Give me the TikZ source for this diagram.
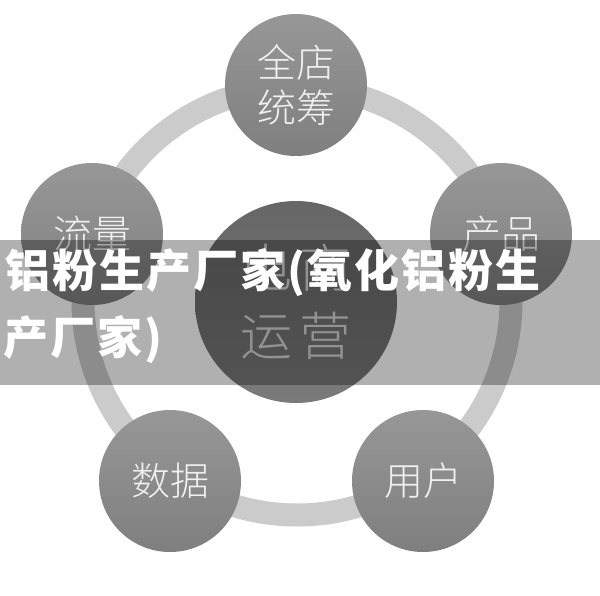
\documentclass[tikz,border=0pt]{standalone}
\usepackage{fontspec}
\newfontfamily\cjk{Noto Sans CJK SC}
\newfontfamily\cjkl{Noto Sans CJK SC Light}
\definecolor{ringc}{HTML}{CBCBCB}
\definecolor{otop}{HTML}{979797}
\definecolor{obot}{HTML}{7F7F7F}
\definecolor{ctop}{HTML}{666666}
\definecolor{cbot}{HTML}{7A7A7A}
\definecolor{olab}{HTML}{F0F0F0}
\definecolor{clab}{HTML}{D4D4D4}
\newcommand{\lsp}{\kern2pt}
\tikzset{
  outer/.style={circle, inner sep=0pt, minimum size=142pt, top color=otop, bottom color=obot,
    text=olab, align=center, font=\cjkl\fontsize{39}{45}\selectfont},
  hub/.style={circle, inner sep=0pt, minimum size=202pt, top color=ctop, bottom color=cbot,
    text=clab, align=center, font=\cjkl\fontsize{52}{68}\selectfont},
  bannertext/.style={anchor=base west, inner sep=0pt, text=white,
    font=\cjk\bfseries\fontsize{45}{50}\selectfont}
}
\begin{document}
\begin{tikzpicture}[x=1pt, y=-1pt]
\useasboundingbox (0,0) rectangle (600,595);
\fill[white] (0,0) rectangle (600,595);
% ring
\draw[line width=23pt, ringc] (297,301) circle[radius=214];
% circles
\node[hub] (hub) at (296,302) {电\kern8pt 商\\运\kern8pt 营};
\node[outer] (top) at (296,85) {全店\\统筹};
\node[outer] (left) at (92,234) {流量};
\node[outer] (right) at (501,234) {产品};
\node[outer] (bl) at (170,481) {数据};
\node[outer] (br) at (423,481) {用户};
% banner
\fill[black, opacity=0.31] (0,240) rectangle (600,385);
\node[bannertext] (t1) at (5,287) {铝\lsp 粉\lsp 生\lsp 产\lsp 厂\lsp 家\lsp (\lsp 氧\lsp 化\lsp 铝\lsp 粉\lsp 生};
\node[bannertext] (t2) at (3,354) {产\lsp 厂\lsp 家\lsp )};
\end{tikzpicture}
\end{document}
